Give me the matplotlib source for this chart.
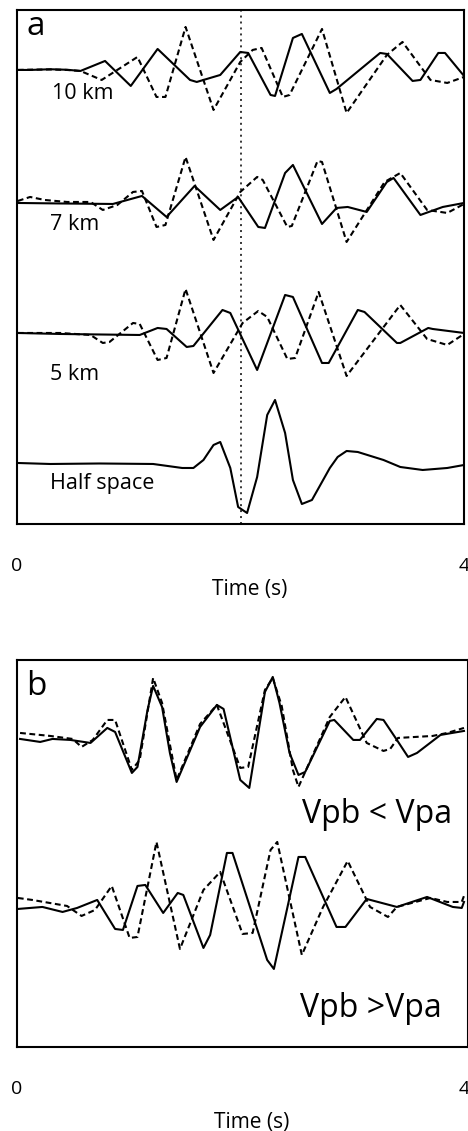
import matplotlib.pyplot as plt

plt.rcParams['font.family'] = ['Open Sans', 'DejaVu Sans']

# ---- panel a: synthetic seismograms for different layer thicknesses ----
# times in s, amplitudes in arbitrary units (positive up)
t10_solid = [0.01, 0.12, 0.30, 0.45, 0.57, 0.79, 1.02, 1.26, 1.55, 1.61, 1.82, 1.999, 2.07, 2.27, 2.31,
             2.47, 2.55, 2.80, 2.86, 3.25, 3.31, 3.54, 3.61, 3.77, 3.83, 4.0]
a10_solid = [0.0, 0.0, 0.07, 0.02, -0.1, 0.9, -1.6, 2.1, -1.0, -1.2, -0.5, 1.8, 1.7, -2.5, -2.6,
             3.2, 3.6, -2.3, -1.9, 1.7, 1.6, -1.1, -1.0, 1.7, 1.7, -0.6]
t10_dash = [0.01, 0.12, 0.30, 0.45, 0.57, 0.76, 1.08, 1.25, 1.33, 1.51, 1.76, 1.999, 2.11, 2.19, 2.38,
            2.44, 2.73, 2.95, 3.31, 3.45, 3.70, 3.85, 4.0]
a10_dash = [0.0, 0.03, 0.05, 0.0, -0.1, -1.0, 1.3, -2.7, -2.7, 4.3, -4.0, 0.8, 2.0, 2.2, -2.7,
            -2.5, 4.1, -4.3, 1.5, 2.8, -1.0, -1.3, -0.7]

t7_solid = [0.01, 0.39, 0.86, 1.12, 1.34, 1.59, 1.82, 1.98, 2.16, 2.22, 2.40, 2.47, 2.73, 2.86, 2.96,
            3.13, 3.31, 3.37, 3.61, 3.81, 4.0]
a7_solid = [0.0, -0.05, -0.1, 0.7, -1.4, 1.7, -0.7, 0.6, -2.4, -2.5, 3.0, 3.8, -2.1, -0.5, -0.4,
            -0.9, 2.1, 2.5, -1.2, -0.4, 0.0]
t7_dash = [0.01, 0.12, 0.25, 0.45, 0.66, 0.77, 0.90, 1.04, 1.12, 1.25, 1.33, 1.51, 1.76, 1.999, 2.15,
           2.20, 2.42, 2.46, 2.69, 2.73, 2.95, 3.29, 3.43, 3.67, 3.85, 4.0]
a7_dash = [0.2, 0.6, 0.3, 0.1, 0.1, -0.7, -0.2, 1.1, 1.2, -2.4, -2.2, 4.6, -3.7, 1.1, 2.6,
           2.3, -2.4, -2.3, 4.2, 4.1, -3.9, 2.1, 3.0, -0.7, -1.0, -0.1]

t5_solid = [0.01, 0.39, 0.74, 1.10, 1.26, 1.34, 1.52, 1.58, 1.84, 1.91, 2.15, 2.40, 2.47, 2.73, 2.79,
            3.05, 3.11, 3.40, 3.43, 3.68, 3.72, 4.0]
a5_solid = [0.0, -0.1, -0.15, -0.2, 0.5, 0.4, -1.4, -1.3, 2.3, 2.0, -3.7, 3.8, 3.6, -3.0, -3.0,
            2.3, 2.1, -1.0, -1.0, 0.5, 0.4, 0.0]
t5_dash = [0.01, 0.39, 0.66, 0.77, 0.83, 1.04, 1.10, 1.26, 1.34, 1.51, 1.76, 2.02, 2.16, 2.24, 2.42,
           2.49, 2.70, 2.95, 3.43, 3.67, 3.85, 4.0]
a5_dash = [0.0, 0.0, -0.2, -1.0, -0.9, 1.0, 0.9, -2.7, -2.5, 4.4, -4.0, 1.0, 2.2, 1.6, -2.6,
           -2.5, 4.1, -4.3, 2.8, -0.6, -1.2, -0.1]

t_half = [0.01, 0.30, 0.74, 1.22, 1.48, 1.58, 1.67, 1.76, 1.82, 1.91, 1.98, 2.06, 2.15, 2.24, 2.31,
          2.40, 2.47, 2.55, 2.64, 2.80, 2.87, 2.95, 3.05, 3.28, 3.43, 3.63, 3.85, 4.0]
a_half = [0.1, 0.0, 0.05, 0.0, -0.4, -0.4, 0.4, 1.9, 2.2, -0.4, -4.3, -4.9, -1.3, 4.9, 6.4,
          3.1, -1.6, -4.0, -3.6, -0.4, 0.7, 1.3, 1.2, 0.4, -0.3, -0.6, -0.4, -0.1]

# ---- panel b: velocity contrast cases ----
tlo_solid = [0.03, 0.21, 0.32, 0.48, 0.66, 0.81, 0.88, 1.03, 1.08, 1.17, 1.22, 1.30, 1.37, 1.43, 1.64,
             1.79, 1.85, 1.999, 2.08, 2.22, 2.29, 2.35, 2.44, 2.52, 2.58, 2.80, 2.84, 3.01, 3.07, 3.22,
             3.28, 3.40, 3.50, 3.58, 3.79, 4.0]
alo_solid = [0.0, -0.3, 0.0, -0.1, -0.4, 1.1, 0.7, -3.4, -2.8, 2.9, 5.3, 3.2, -1.4, -4.3, 1.2,
             3.4, 3.0, -4.1, -4.9, 4.7, 6.2, 3.6, -1.4, -3.6, -3.3, 1.8, 1.9, -0.1, -0.1, 2.0,
             1.9, -0.1, -1.8, -1.4, 0.4, 0.8]
tlo_dash = [0.03, 0.30, 0.50, 0.58, 0.68, 0.81, 0.88, 1.03, 1.10, 1.22, 1.30, 1.43, 1.64, 1.79, 1.999,
            2.07, 2.22, 2.29, 2.37, 2.47, 2.52, 2.80, 2.94, 3.13, 3.28, 3.34, 3.41, 3.72, 3.85, 4.0]
alo_dash = [0.6, 0.3, 0.0, -0.8, -0.1, 1.9, 1.9, -3.1, -2.1, 6.1, 3.6, -4.1, 1.5, 3.4, -2.9,
            -2.8, 4.9, 6.1, 3.3, -3.1, -4.8, 2.2, 4.2, -0.4, -1.2, -1.0, 0.1, 0.3, 0.6, 1.1]

thi_solid = [0.01, 0.23, 0.41, 0.54, 0.72, 0.88, 0.95, 1.08, 1.15, 1.31, 1.44, 1.49, 1.67, 1.73, 1.88,
             1.93, 2.24, 2.30, 2.52, 2.58, 2.86, 2.94, 3.13, 3.40, 3.67, 3.90, 3.98, 4.0]
ahi_solid = [-0.1, 0.1, -0.4, 0.0, 0.8, -2.1, -2.2, 2.2, 2.3, -0.5, 1.5, 1.3, -4.0, -2.7, 5.5,
             5.5, -5.2, -6.1, 5.1, 5.1, -1.9, -1.9, 0.9, 0.1, 1.1, 0.1, 0.0, 0.6]
thi_dash = [0.01, 0.14, 0.45, 0.58, 0.70, 0.85, 1.01, 1.08, 1.25, 1.46, 1.67, 1.82, 2.02, 2.11, 2.27,
            2.33, 2.55, 2.74, 2.96, 3.16, 3.32, 3.40, 3.70, 3.85, 3.98, 4.0]
ahi_dash = [1.0, 0.8, 0.2, -0.8, -0.2, 2.2, -3.0, -2.9, 6.6, -4.1, 1.8, 3.6, -2.6, -2.5, 5.8,
            6.6, -4.7, 0.1, 4.7, 0.1, -0.9, 0.1, 1.0, 0.6, 0.6, 1.2]

depth_labels = ['10 km', '7 km', '5 km', 'Half space']
t_ref = 2.01

lw = 1.5
dash = (0, (2.8, 1.7))

fig = plt.figure(figsize=(4.68, 11.31), dpi=100, facecolor='white')

ax1 = fig.add_axes([0.0357, 0.5367, 0.9558, 0.4545])
ax2 = fig.add_axes([0.0357, 0.0743, 0.9643, 0.3422])

# panel a
offs_a = [45.4, 32.1, 19.1, 6.0]
pairs = [(t10_solid, a10_solid, t10_dash, a10_dash),
         (t7_solid, a7_solid, t7_dash, a7_dash),
         (t5_solid, a5_solid, t5_dash, a5_dash)]
for (ts, as_, td, ad), off in zip(pairs, offs_a):
    ax1.plot(td, [v + off for v in ad], color='black', lw=lw, linestyle=dash)
    ax1.plot(ts, [v + off for v in as_], color='black', lw=lw)
ax1.plot(t_half, [v + offs_a[3] for v in a_half], color='black', lw=lw)
ax1.axvline(t_ref, color='black', lw=1.1, linestyle=(0, (1.3, 2.6)))

lab_y = [0.827, 0.572, 0.280, 0.068]
lab_x = [0.079, 0.074, 0.074, 0.074]
for s, x, y in zip(depth_labels, lab_x, lab_y):
    ax1.text(x, y, s, transform=ax1.transAxes, fontsize=15.5, ha='left', va='baseline')
ax1.text(0.021, 0.951, 'a', transform=ax1.transAxes, fontsize=24, ha='left', va='baseline')
ax1.set_xlim(0, 4)
ax1.set_ylim(0, 51.4)

# panel b
offs_b = [30.8, 13.9]
ax2.plot(tlo_dash, [v + offs_b[0] for v in alo_dash], color='black', lw=lw, linestyle=dash)
ax2.plot(tlo_solid, [v + offs_b[0] for v in alo_solid], color='black', lw=lw)
ax2.plot(thi_dash, [v + offs_b[1] for v in ahi_dash], color='black', lw=lw, linestyle=dash)
ax2.plot(thi_solid, [v + offs_b[1] for v in ahi_solid], color='black', lw=lw)
ax2.text(0.632, 0.579, 'Vpb < Vpa', transform=ax2.transAxes, fontsize=23, ha='left', va='baseline')
ax2.text(0.628, 0.0775, 'Vpb >Vpa', transform=ax2.transAxes, fontsize=23, ha='left', va='baseline')
ax2.text(0.021, 0.910, 'b', transform=ax2.transAxes, fontsize=24, ha='left', va='baseline')
ax2.set_xlim(0, 4.036)
ax2.set_ylim(0, 38.7)

for ax, ylab in [(ax1, -0.128), (ax2, -0.194)]:
    ax.set_xticks([0, 4])
    ax.set_xticklabels(['0', '4'])
    ax.set_yticks([])
    ax.tick_params(axis='x', length=0, pad=24, labelsize=14)
    for sp in ax.spines.values():
        sp.set_linewidth(1.5)
    ax.set_xlabel('Time (s)', fontsize=15, va='center')
    ax.xaxis.set_label_coords(0.52, ylab)

fig.savefig('out.png', dpi=100, facecolor=fig.get_facecolor())
